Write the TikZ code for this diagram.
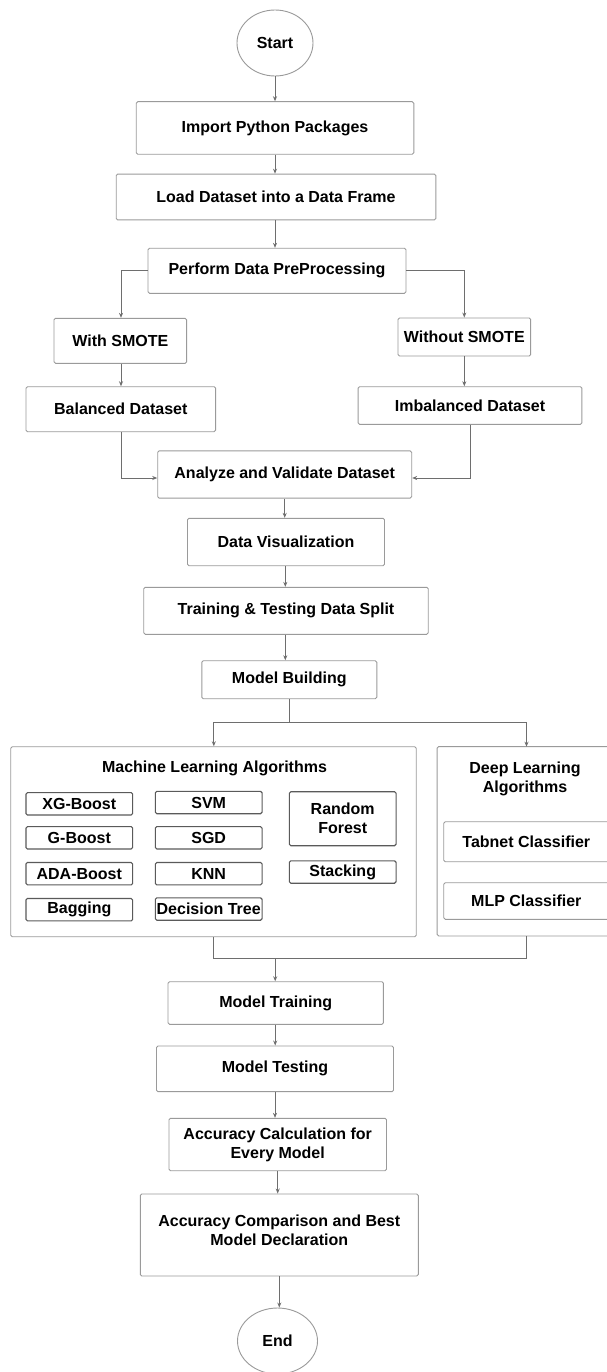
\documentclass[tikz,border=0pt]{standalone}
\usepackage{fontspec}
\setmainfont{Liberation Sans}
\usetikzlibrary{shapes.geometric,arrows.meta,calc}
\definecolor{boxline}{HTML}{9A9A9A}
\definecolor{conn}{HTML}{6E6E6E}
\definecolor{innerline}{HTML}{5A5A5A}
\begin{document}
\begin{tikzpicture}[x=1pt,y=-1pt,
  every node/.style={font=\fontsize{16}{19}\selectfont\bfseries, align=center, inner sep=0pt, text=black},
  box/.style={draw=boxline, line width=0.9pt, rounded corners=1.5pt},
  ibox/.style={draw=innerline, line width=1.1pt, rounded corners=1.5pt, minimum width=106.7pt, minimum height=22.4pt},
  term/.style={draw=boxline, line width=0.9pt, ellipse},
  arr/.style={draw=conn, line width=0.8pt, -{Stealth[length=5pt,width=4pt]}},
  ln/.style={draw=conn, line width=0.8pt}]
\fill[white] (0,0) rectangle (606,1372);
\useasboundingbox (0,0) rectangle (606,1372);

% terminals
\node[term, minimum width=76pt, minimum height=66pt] (start) at (275,43) {Start};
\node[term, minimum width=80pt, minimum height=66pt] (end) at (277.5,1341) {End};

% main boxes
\node[box, minimum width=277.6pt, minimum height=52.6pt] (imp) at (275,128) {Import Python Packages};
\node[box, minimum width=319.6pt, minimum height=45.7pt] (load) at (276,197) {Load Dataset into a Data Frame};
\node[box, minimum width=258pt, minimum height=45pt] (perf) at (277,270.8) {Perform Data PreProcessing};
\node[box, minimum width=132.7pt, minimum height=45pt] (with) at (120.3,340.8) {With SMOTE};
\node[box, minimum width=132.7pt, minimum height=38pt] (without) at (464.3,337) {Without SMOTE};
\node[box, minimum width=189.7pt, minimum height=45pt] (bal) at (120.8,409.2) {Balanced Dataset};
\node[box, minimum width=223.7pt, minimum height=37.6pt] (imb) at (470,405.5) {Imbalanced Dataset};
\node[box, minimum width=254pt, minimum height=47.3pt] (ana) at (284.7,474.5) {Analyze and Validate Dataset};
\node[box, minimum width=197pt, minimum height=47.4pt] (vis) at (286,542) {Data Visualization};
\node[box, minimum width=284.5pt, minimum height=47pt] (split) at (286,610.8) {Training \& Testing Data Split};
\node[box, minimum width=175pt, minimum height=38pt] (mb) at (289.3,679.7) {Model Building};

% algorithm groups
\node[box, minimum width=405.5pt, minimum height=190pt] (ml) at (213.5,841.7) {};
\node[anchor=base] (mltitle) at (214.5,772) {Machine Learning Algorithms};
\node[box, minimum width=186pt, minimum height=189.3pt, anchor=west] (dl) at (436.7,841.3) {};
\node (dltitle) at (525,778.5) {Deep Learning\\Algorithms};

\node[ibox] (xg) at (79.3,803.8) {XG-Boost};
\node[ibox] (gb) at (79.3,837.8) {G-Boost};
\node[ibox] (ada) at (79.3,873.7) {ADA-Boost};
\node[ibox] (bag) at (79.3,909.7) {Bagging};
\node[ibox] (svm) at (208.7,802.5) {SVM};
\node[ibox] (sgd) at (208.7,837.8) {SGD};
\node[ibox] (knn) at (208.7,873.7) {KNN};
\node[ibox] (dt) at (208.7,909) {Decision Tree};
\node[ibox, minimum height=54pt] (rf) at (342.7,818.7) {Random\\Forest};
\node[ibox] (stack) at (342.7,872) {Stacking};

\node[box, minimum width=176pt, minimum height=40pt, anchor=west] (tab) at (443.3,841.7) {};
\node (tabtext) at (526.3,841.7) {Tabnet Classifier};
\node[box, minimum width=176pt, minimum height=36.6pt, anchor=west] (mlp) at (443.3,901) {};
\node (mlptext) at (526.3,901) {MLP Classifier};

% lower boxes
\node[box, minimum width=215.4pt, minimum height=42.6pt] (mt) at (275.7,1003) {Model Training};
\node[box, minimum width=237pt, minimum height=45.7pt] (mtest) at (275,1068.8) {Model Testing};
\node[box, minimum width=217.5pt, minimum height=52.4pt] (acc) at (277.7,1144.5) {Accuracy Calculation for\\Every Model};
\node[box, minimum width=278pt, minimum height=82pt] (cmp) at (279.3,1235) {};
\node (cmptext) at (279.3,1230.5) {Accuracy Comparison and Best\\Model Declaration};

% connectors
\draw[arr] (start.south) -- (start.south |- imp.north);
\draw[arr] (imp.south) -- (imp.south |- load.north);
\draw[arr] ([xshift=-1pt]load.south) -- ([xshift=-1pt]load.south |- perf.north);
\draw[arr] (perf.west) -| ([xshift=0.7pt]with.north);
\draw[arr] (perf.east) -| (without.north);
\draw[arr] ([xshift=0.7pt]with.south) -- ([xshift=0.7pt]with.south |- bal.north);
\draw[arr] (without.south) -- (without.south |- imb.north);
\draw[arr] ([xshift=0.2pt]bal.south) |- ([yshift=-3.5pt]ana.west);
\draw[arr] ([xshift=0.4pt]imb.south) |- ([yshift=-3.5pt]ana.east);
\draw[arr] (ana.south) -- (ana.south |- vis.north);
\draw[arr] ([xshift=-0.7pt]vis.south) -- ([xshift=-0.7pt]vis.south |- split.north);
\draw[arr] ([xshift=-0.7pt]split.south) -- ([xshift=-0.7pt]split.south |- mb.north);
\coordinate (fork) at (289.3,722.7);
\coordinate (dltop) at (526.5,746.7);
\coordinate (dlbot) at (526.5,936);
\draw[ln] (mb.south) -- (fork);
\draw[arr] (fork) -| ([xshift=0.3pt]ml.north);
\draw[arr] (fork) -| (dltop);
\coordinate (join) at (275.2,958.3);
\draw[ln] ([xshift=0.3pt]ml.south) |- (join);
\draw[ln] (dlbot) |- (join);
\draw[arr] (join) -- (join |- mt.north);
\draw[arr] ([xshift=-0.5pt]mt.south) -- ([xshift=-0.5pt]mt.south |- mtest.north);
\draw[arr] (mtest.south) -- (mtest.south |- acc.north);
\draw[arr] (acc.south) -- (acc.south |- cmp.north);
\draw[arr] (cmp.south) -- (cmp.south |- end.north);
\end{tikzpicture}
\end{document}
